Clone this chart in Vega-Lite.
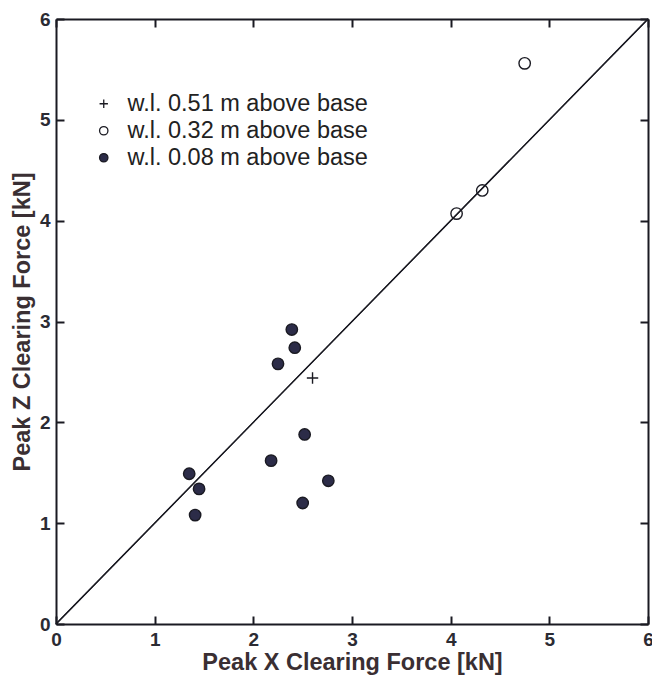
{
  "$schema": "https://vega.github.io/schema/vega-lite/v6.json",
  "autosize": "none",
  "width": 592,
  "height": 605,
  "padding": {"left": 56, "top": 19, "right": 4, "bottom": 55},
  "background": "white",
  "config": {
    "view": {"stroke": null},
    "axis": {
      "grid": false,
      "domainColor": "#1a1a22",
      "domainWidth": 2,
      "tickColor": "#1a1a22",
      "tickWidth": 2,
      "tickSize": -8,
      "labelFont": "Liberation Sans",
      "labelFontWeight": "bold",
      "labelFontSize": 19,
      "labelColor": "#2b2b33",
      "titleFont": "Liberation Sans",
      "titleFontWeight": "bold",
      "titleFontSize": 23.5,
      "titleColor": "#3a2f33"
    },
    "legend": {
      "labelFont": "Liberation Sans",
      "labelFontSize": 23.5,
      "labelColor": "#222",
      "labelLimit": 0
    }
  },
  "datasets": {
    "pts": [
      {"x": 1.35, "z": 1.49, "series": "w.l. 0.08 m above base"},
      {"x": 1.45, "z": 1.34, "series": "w.l. 0.08 m above base"},
      {"x": 1.41, "z": 1.08, "series": "w.l. 0.08 m above base"},
      {"x": 2.18, "z": 1.62, "series": "w.l. 0.08 m above base"},
      {"x": 2.25, "z": 2.58, "series": "w.l. 0.08 m above base"},
      {"x": 2.39, "z": 2.92, "series": "w.l. 0.08 m above base"},
      {"x": 2.42, "z": 2.74, "series": "w.l. 0.08 m above base"},
      {"x": 2.52, "z": 1.88, "series": "w.l. 0.08 m above base"},
      {"x": 2.50, "z": 1.20, "series": "w.l. 0.08 m above base"},
      {"x": 2.76, "z": 1.42, "series": "w.l. 0.08 m above base"},
      {"x": 2.60, "z": 2.44, "series": "w.l. 0.51 m above base"},
      {"x": 4.75, "z": 5.56, "series": "w.l. 0.32 m above base"},
      {"x": 4.32, "z": 4.30, "series": "w.l. 0.32 m above base"},
      {"x": 4.06, "z": 4.07, "series": "w.l. 0.32 m above base"}
    ],
    "diag": [{"x": 0, "z": 0}, {"x": 6, "z": 6}]
  },
  "layer": [
    {
      "data": {"name": "diag"},
      "mark": {"type": "line", "color": "#1a1a22", "strokeWidth": 1.3},
      "encoding": {
        "x": {"field": "x", "type": "quantitative", "scale": {"domain": [0, 6], "nice": false},
              "axis": {"values": [0,1,2,3,4,5,6], "title": "Peak X Clearing Force [kN]", "labelPadding": 14, "titlePadding": 1, "labelFlush": false}},
        "y": {"field": "z", "type": "quantitative", "scale": {"domain": [0, 6], "nice": false},
              "axis": {"values": [0,1,2,3,4,5,6], "title": "Peak Z Clearing Force [kN]", "labelPadding": 14, "titlePadding": 5, "labelFlush": false}}
      }
    },
    {
      "data": {"name": "diag"},
      "mark": {"type": "line", "color": "#1a1a22", "strokeWidth": 1.3},
      "encoding": {
        "x": {"field": "x", "type": "quantitative",
              "axis": {"orient": "top", "values": [0,1,2,3,4,5,6], "labels": false, "title": null}},
        "y": {"field": "z", "type": "quantitative",
              "axis": {"orient": "right", "values": [0,1,2,3,4,5,6], "labels": false, "title": null}}
      }
    },
    {
      "data": {"name": "pts"},
      "mark": {"type": "point", "size": 130, "strokeWidth": 1.4, "opacity": 1},
      "encoding": {
        "x": {"field": "x", "type": "quantitative", "axis": null},
        "y": {"field": "z", "type": "quantitative", "axis": null},
        "shape": {"field": "series", "type": "nominal",
                  "scale": {"domain": ["w.l. 0.51 m above base", "w.l. 0.32 m above base", "w.l. 0.08 m above base"],
                            "range": ["M-1,0H1M0,-1V1", "circle", "circle"]},
                  "legend": {"orient": "none", "legendX": 36, "legendY": 73, "title": null, "symbolSize": 70, "rowPadding": 2, "labelOffset": 12, "symbolStrokeWidth": 1.3}},
        "fill": {"field": "series", "type": "nominal",
                 "scale": {"domain": ["w.l. 0.51 m above base", "w.l. 0.32 m above base", "w.l. 0.08 m above base"],
                           "range": ["transparent", "transparent", "#2c2c48"]},
                 "legend": {"orient": "none", "legendX": 36, "legendY": 73, "title": null, "symbolSize": 70, "rowPadding": 2, "labelOffset": 12, "symbolStrokeWidth": 1.3}},
        "stroke": {"field": "series", "type": "nominal",
                 "scale": {"domain": ["w.l. 0.51 m above base", "w.l. 0.32 m above base", "w.l. 0.08 m above base"],
                           "range": ["#1a1a22", "#1a1a22", "#1a1a22"]},
                 "legend": {"orient": "none", "legendX": 36, "legendY": 73, "title": null, "symbolSize": 70, "rowPadding": 2, "labelOffset": 12, "symbolStrokeWidth": 1.3}}
      }
    }
  ],
  "resolve": {"axis": {"x": "independent", "y": "independent"}}
}
